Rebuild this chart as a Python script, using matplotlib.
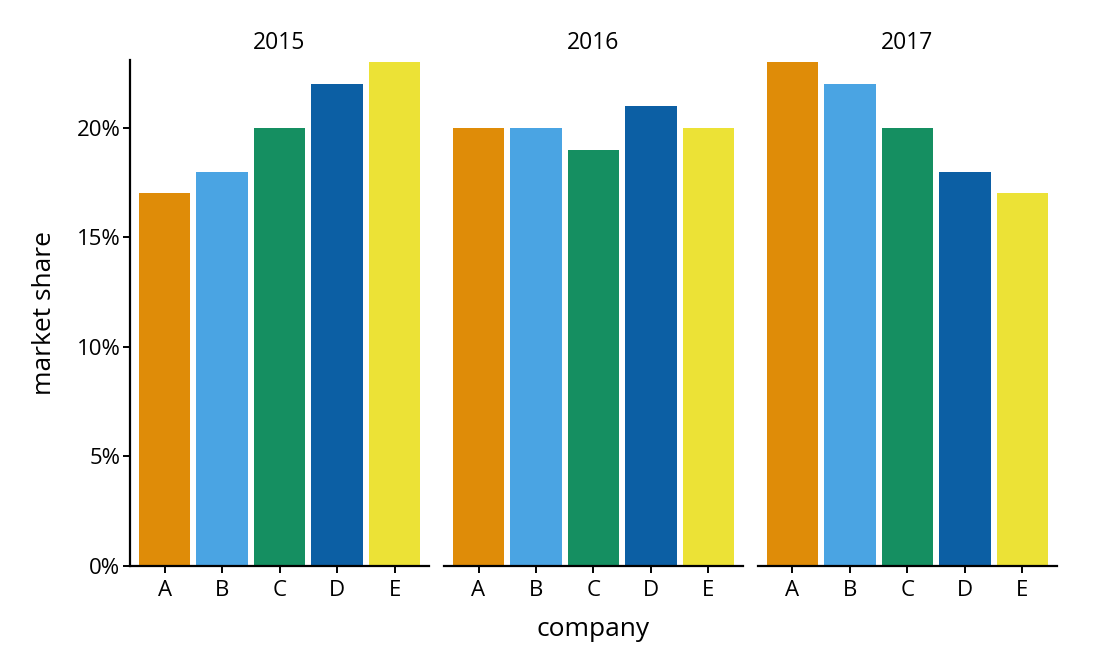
import matplotlib.pyplot as plt
from matplotlib.ticker import FuncFormatter

plt.rcParams['font.family'] = ['Open Sans', 'DejaVu Sans']

# market share per company, by year
companies = ["A", "B", "C", "D", "E"]
years = ["2015", "2016", "2017"]
share_2015 = [17, 18, 20, 22, 23]
share_2016 = [20, 20, 19, 21, 20]
share_2017 = [23, 22, 20, 18, 17]
colors = ["#DF8C08", "#4AA4E3", "#158F61", "#0C5FA4", "#ECE236"]

fig, axes = plt.subplots(1, 3, figsize=(10.93, 6.72), dpi=100, sharey=True)
fig.subplots_adjust(left=0.119, right=0.967, bottom=0.158, top=0.911, wspace=0.05)

for ax, year, vals in zip(axes, years, [share_2015, share_2016, share_2017]):
    ax.bar(range(len(companies)), vals, width=0.9, color=colors)
    ax.set_xticks(range(len(companies)))
    ax.set_xticklabels(companies, fontsize=16)
    ax.set_xlim(-0.6, 4.6)
    ax.set_ylim(0, 23.1)
    ax.set_title(year, fontsize=16.5, pad=8)
    for s in ["top", "right"]:
        ax.spines[s].set_visible(False)
    ax.spines["bottom"].set_linewidth(1.6)
    ax.spines["left"].set_linewidth(1.6)
    ax.tick_params(axis="x", length=5, width=1.4, pad=5)
    ax.tick_params(axis="y", length=5, width=1.4, labelsize=16, pad=2)

axes[0].set_yticks([0, 5, 10, 15, 20])
axes[0].yaxis.set_major_formatter(FuncFormatter(lambda v, p: f"{v:.0f}%"))
axes[0].set_ylabel("market share", fontsize=19, labelpad=14)
for ax in axes[1:]:
    ax.spines["left"].set_visible(False)
    ax.tick_params(axis="y", left=False, labelleft=False)
axes[1].set_xlabel("company", fontsize=19, labelpad=12)

fig.savefig("out.png", dpi=100)
